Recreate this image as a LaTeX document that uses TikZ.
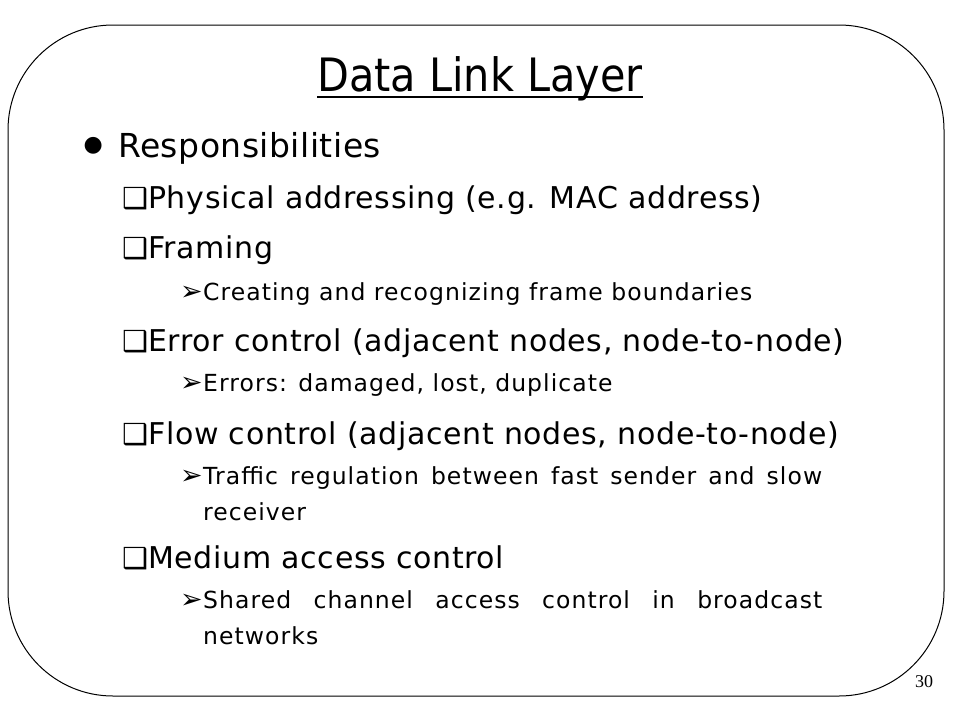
\documentclass[tikz,border=0pt]{standalone}
\usepackage{fontspec}
\setmainfont{DejaVu Sans}
\newfontfamily\headfont{DejaVu Sans Condensed}
\newfontfamily\pagefont{Liberation Serif}
\usetikzlibrary{positioning}

\begin{document}
\begin{tikzpicture}[x=1pt, y=-1pt,
  every node/.style={inner sep=0pt, anchor=base west},
  headline/.style={font=\headfont\fontsize{46}{55}\selectfont},
  lvlone/.style={font=\fontsize{33}{38}\selectfont\addfontfeature{LetterSpace=1.5}},
  lvltwo/.style={font=\fontsize{30}{34}\selectfont\addfontfeature{LetterSpace=2.2}},
  lvlthree/.style={font=\fontsize{23.5}{36}\selectfont\addfontfeature{LetterSpace=4.5}},
  wrapped/.style={lvlthree, text width=619pt, align=justify},
  dotmark/.style={font=\fontsize{22}{22}\selectfont},
  boxmark/.style={font=\fontsize{29}{29}\selectfont},
  arrowmark/.style={font=\fontsize{27}{27}\selectfont}]
  \useasboundingbox (0,0) rectangle (960,720);

  % Slide frame
  \draw[line width=1pt, rounded corners=105pt] (8,25) rectangle (944,696);

  % Title
  \node[headline, anchor=base] (title) at (480,91) {Data Link Layer};
  \draw[line width=2.5pt] ([yshift=-6pt]title.base west) -- ([yshift=-6pt]title.base east);

  % Responsibilities
  \node[dotmark] (dot) at (83.5,151) {●};
  \node[lvlone] (resp) at (118,157) {Responsibilities};

  % Physical addressing
  \node[boxmark] (physbox) at (122,208) {❑};
  \node[lvltwo] (phys) at (148,208) {Physical addressing (e.g. MAC address)};

  % Framing
  \node[boxmark] (framebox) at (122,258) {❑};
  \node[lvltwo] (frame) at (148,258) {Framing};
  \node[arrowmark] (framearr) at (180,300) {➢};
  \node[lvlthree] (framesub) at (203,300) {Creating and recognizing frame boundaries};

  % Error control
  \node[boxmark] (errbox) at (122,351) {❑};
  \node[lvltwo] (err) at (148,351) {Error control (adjacent nodes, node-to-node)};
  \node[arrowmark] (errarr) at (180,391) {➢};
  \node[lvlthree] (errsub) at (203,391) {Errors: damaged, lost, duplicate};

  % Flow control
  \node[boxmark] (flowbox) at (122,444) {❑};
  \node[lvltwo] (flow) at (148,444) {Flow control (adjacent nodes, node-to-node)};
  \node[arrowmark] (flowarr) at (180,484) {➢};
  \node[wrapped] (flowsub) at (203,484) {Traffic regulation between fast sender and slow\linebreak receiver};

  % Medium access control
  \node[boxmark] (macbox) at (122,568) {❑};
  \node[lvltwo] (mac) at (148,568) {Medium access control};
  \node[arrowmark] (macarr) at (180,608) {➢};
  \node[wrapped] (macsub) at (203,608) {Shared channel access control in broadcast\linebreak networks};

  % Page number
  \node[font=\pagefont\fontsize{18}{18}\selectfont] (page) at (915,687) {30};
\end{tikzpicture}
\end{document}
